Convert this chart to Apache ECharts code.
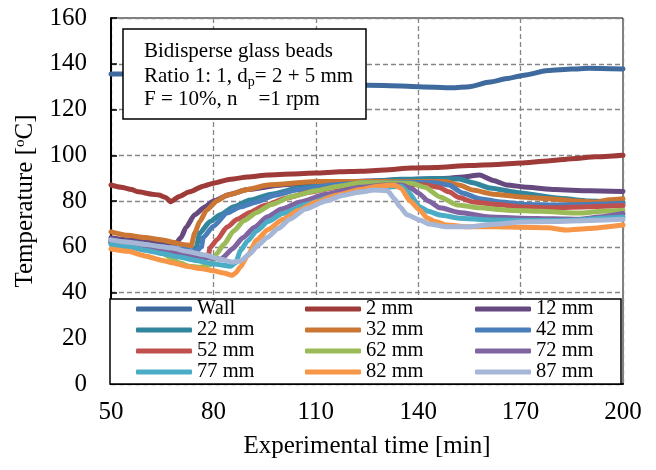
<!DOCTYPE html>
<html>
<head>
<meta charset="utf-8">
<script src="https://cdn.jsdelivr.net/npm/echarts@6/dist/echarts.min.js"></script>
<style>
  html, body { margin: 0; padding: 0; background: #fff; }
  #app { width: 656px; height: 470px; }
</style>
</head>
<body>
<div id="app"></div>
<script>
// axis ticks
var xMin = 50, xMax = 200, xStep = 30;
var yMin = 0, yMax = 160, yStep = 20;

var seriesNames = ["Wall", "2 mm", "12 mm", "22 mm", "32 mm", "42 mm",
  "52 mm", "62 mm", "72 mm", "77 mm", "82 mm", "87 mm"];
var seriesColors = ["#3e6a9e", "#9e3b38", "#65497f", "#31859c", "#cb7632", "#4a7ebb",
  "#c0504d", "#9bbb59", "#8064a2", "#4bacc6", "#f79646", "#a5b6d6"];

// [time min, temperature C]
var wall = [[50,135.5],[55,135.5],[60,134],[70,133],[80,132],[100,131],[120,130.7],[130,130.5],
  [140,130],[150,129.5],[155,130],[161,132],[166,133.5],[171,135],[178,137],[185,137.7],[190,138],[200,137.7]];
var mm2 = [[50,87],[53,86],[56,85],[58,84],[62,83],[64,82.6],[66,81.5],[67.5,79.7],[70,82],[73,84],
  [77,86.5],[80,87.8],[85,89.5],[90,90.5],[96,91.4],[103,91.8],[110,92.2],[117,92.8],[123,93],[130,93.5],
  [138,94.4],[145,94.6],[155,95.5],[163,96],[170,96.6],[178,97.5],[185,98.5],[192,99.3],[200,100]];
var mm12 = [[50,64],[55,63],[60,62.5],[65,62],[69,61.5],[70.5,64],[72,68.5],[74.5,74],[77.5,77.4],[80,80],
  [85,83],[90,85],[100,87],[110,88],[120,88.5],[130,89],[140,89.5],[149,90],[153,90.5],[158,91.4],
  [162,89],[166,87],[172,86],[180,85],[190,84.5],[200,84.2]];
var mm22 = [[50,62],[55,61],[60,60],[65,59],[70,58],[74,57.5],[75,60],[76,66],[79,71],[82,74],[86,77.5],
  [90.7,80.4],[97,83],[105,85.7],[115,87.5],[125,88.5],[135,89.5],[145,89.8],[152,89.6],[156,88],
  [161,85.7],[170,83.5],[180.6,81.3],[190,80],[200,79.5]];
var mm32 = [[50,66.5],[55,65],[60,64],[65,63],[68,62],[71,61],[73.5,60.5],[74.5,66],[76,71],[78,76],
  [81,80],[84,82.6],[90,85],[96,87],[110,88.5],[120,88.5],[130,88.5],[140,88.5],[148,88.5],[152,87],
  [156,84.8],[162,83],[170,81.8],[180,80.8],[186,80],[192,79.5],[196,80.5],[200,81]];
var mm42 = [[50,63],[55,62],[60,61],[65,60],[70,59],[75,58],[76.5,60],[77,64],[80,69],[84,74.7],[88,77.5],
  [92.7,79.6],[98,82.5],[105,85],[115,87],[125,88],[135,88.2],[145,88],[149,87],[153,83.5],[158,81],
  [164,79.6],[172,78.5],[180,78.3],[190,78.5],[200,79]];
var mm52 = [[50,62],[55,61],[60,60],[65,59],[70,57.5],[75,56.5],[78.5,56],[79,59.5],[81,63],[84,68.6],
  [87,72],[90.7,75],[95,78],[101.5,81.3],[108,83.8],[115,85.7],[125,87],[135,87.5],[142,87],[146,86],
  [149,84],[152,81.5],[156,79.6],[163,78.5],[170.7,77.4],[180,77],[190,77.5],[200,78]];
var mm62 = [[50,62.5],[55,61],[60,59.5],[65,57],[70,53],[73,51.5],[76,51],[79,52],[80.5,55],[81,57],
  [83,61],[86,67],[89,71.5],[92.7,75],[97,78.5],[103,82],[110,84.5],[117,86.5],[123,88],[130,88],
  [138,87.8],[142,86],[146.4,81.8],[151.4,78.3],[158,77],[166,76],[176,75.5],[187,74.7],[194,75.5],[200,76]];
var mm72 = [[50,62],[55,61],[60,60],[65,58.5],[70,56.5],[75,55.5],[80,55],[82.5,54.5],[83,55.6],[85.5,59],
  [88.7,64],[92,68.5],[95.7,73],[100,76.5],[105.4,79.6],[113,83],[123,86],[130,87],[135,87],[138,85.5],
  [140,83.5],[143,80],[146.4,77],[152,75],[161,73],[170,72.5],[180,72.2],[187,72],[193,73],[200,74.5]];
var mm77 = [[50,61],[55,60],[60,58.5],[65,57],[70,55.5],[75,54],[80,52.5],[85,51.5],[86.5,53],[88,58.5],
  [90,62.5],[92.7,67],[96,71],[100.4,74.6],[107,78.5],[115,82],[123,84],[130,86],[135,86.5],[137,84],
  [140.5,77.4],[143,75.5],[146.4,73.9],[152,72.5],[161,71.7],[170,71.5],[180,71.5],[187,71.7],[194,72.5],[200,73]];
var mm82 = [[50,59],[55,58],[60,56],[65,54],[68,53],[72,51.5],[76,50.5],[80,49.5],[83,48.5],[85.4,47.5],
  [86.5,48.5],[87.8,51],[90,56],[92.7,63],[96,67.5],[100.4,72],[105,76],[110,79.5],[116,82.5],[123,85],
  [128,86.5],[133,87],[135,85.5],[137.6,80],[140.5,76],[142.6,72.6],[145,71],[148.4,69.5],[155,68.7],
  [163,68.7],[170,68.5],[178,68.3],[183.6,67.3],[190,68],[200,69.5]];
var mm87 = [[50,63],[55,62],[60,61],[65,60],[68,59.4],[72,58],[77.5,56.4],[82,54.5],[85.5,53.3],[88,53.8],
  [90.7,57],[93,60.5],[95.7,64],[99,68],[102.4,72],[107,76.5],[113,80],[118,82.5],[123,84],[127,84.8],
  [131,84.5],[133,81],[134.7,77.4],[136.7,74],[140.5,71.7],[143,70],[148.4,68.7],[155,68.7],[162,69.8],
  [170,70.8],[180,71],[190,71.5],[200,72]];

var seriesData = [wall, mm2, mm12, mm22, mm32, mm42, mm52, mm62, mm72, mm77, mm82, mm87];

var legendCols = [
  ["Wall", "22 mm", "52 mm", "77 mm"],
  ["2 mm", "32 mm", "62 mm", "82 mm"],
  ["12 mm", "42 mm", "72 mm", "87 mm"]
];
var legendLeft = [136, 305, 475];

var FONT = '"Liberation Serif", "Times New Roman", serif';

var chartDom = document.getElementById("app");
var myChart = echarts.init(chartDom, null, { renderer: "canvas" });

// ticks must start at 50, so the x axis runs from 0 and labels add xMin back
function shift(points) {
  return points.map(function (p) { return [p[0] - xMin, p[1]]; });
}

var series = seriesNames.map(function (name, i) {
  return {
    name: name,
    type: "line",
    data: shift(seriesData[i]),
    showSymbol: false,
    symbol: "none",
    smooth: 0.2,
    smoothMonotone: "x",
    color: seriesColors[i],
    lineStyle: { width: 5, color: seriesColors[i], cap: "round", join: "round" },
    z: 2
  };
});

var legends = legendCols.map(function (col, i) {
  return {
    data: col,
    orient: "vertical",
    left: legendLeft[i],
    top: 298.5,
    padding: 0,
    itemGap: 0,
    itemWidth: 56,
    itemHeight: 5,
    icon: "roundRect",
    selectedMode: false,
    textStyle: { fontFamily: FONT, fontSize: 20.5, color: "#000", lineHeight: 21 },
    z: 6
  };
});

var option = {
  animation: false,
  backgroundColor: "#fff",
  grid: {
    left: 111, right: 33, top: 18, bottom: 86,
    show: true, borderColor: "#000", borderWidth: 1, backgroundColor: "transparent"
  },
  legend: legends,
  xAxis: {
    type: "value",
    min: 0,
    max: xMax - xMin,
    interval: xStep,
    name: "Experimental time [min]",
    nameLocation: "middle",
    nameGap: 50,
    nameTextStyle: { fontFamily: FONT, fontSize: 25, color: "#000" },
    axisLine: { lineStyle: { color: "#000", width: 2 } },
    axisTick: { show: false },
    axisLabel: {
      fontFamily: FONT, fontSize: 25, color: "#000", margin: 16,
      formatter: function (v) { return String(v + xMin); }
    },
    splitLine: { show: true, lineStyle: { color: "#858585", type: [5, 3], width: 1.3 } }
  },
  yAxis: {
    type: "value",
    min: yMin,
    max: yMax,
    interval: yStep,
    name: "Temperature [{sup|o}C]",
    nameLocation: "middle",
    nameRotate: 90,
    nameGap: 72,
    nameTextStyle: {
      fontFamily: FONT, fontSize: 25, color: "#000", lineHeight: 26,
      rich: { sup: { fontFamily: FONT, fontSize: 15, lineHeight: 12, verticalAlign: "top", color: "#000" } }
    },
    axisLine: { show: true, lineStyle: { color: "#000", width: 2 } },
    axisTick: { show: true, inside: true, length: 6, lineStyle: { color: "#000", width: 1.5 } },
    axisLabel: { fontFamily: FONT, fontSize: 25, color: "#000", margin: 24 },
    splitLine: { show: true, lineStyle: { color: "#858585", type: [5, 3], width: 1.3 } }
  },
  graphic: [
    // legend frame
    {
      type: "rect", z: 5,
      shape: { x: 110, y: 299, width: 511, height: 85 },
      style: { fill: "#fff", stroke: "#000", lineWidth: 1.5 }
    },
    // info box
    {
      type: "rect", z: 5,
      shape: { x: 123, y: 29, width: 243, height: 90 },
      style: { fill: "#fff", stroke: "#000", lineWidth: 1.5 }
    },
    {
      type: "text", z: 6, left: 144, top: 41,
      style: { text: "Bidisperse glass beads", fontFamily: FONT, fontSize: 21, fill: "#000" }
    },
    {
      type: "text", z: 6, left: 144, top: 64,
      style: {
        text: "Ratio 1: 1, d{p|p}= 2 + 5 mm", fontFamily: FONT, fontSize: 21, lineHeight: 25, fill: "#000",
        rich: { p: { fontFamily: FONT, fontSize: 14, lineHeight: 14, verticalAlign: "bottom", fill: "#000" } }
      }
    },
    {
      type: "text", z: 6, left: 144, top: 89,
      style: { text: "F = 10%, n    =1 rpm", fontFamily: FONT, fontSize: 21, fill: "#000" }
    }
  ],
  series: series
};

option && myChart.setOption(option);
</script>
</body>
</html>
